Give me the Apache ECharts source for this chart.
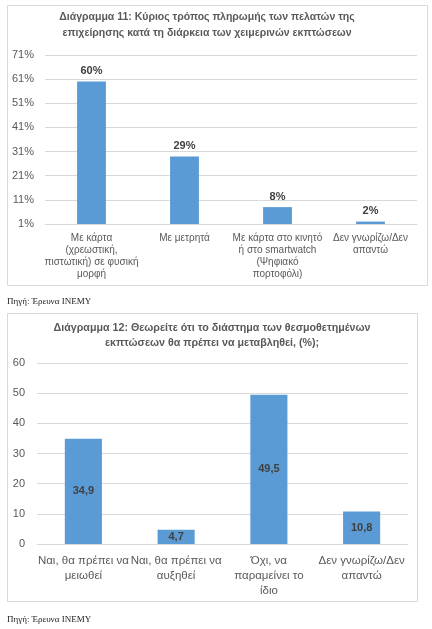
<!DOCTYPE html>
<html><head><meta charset="utf-8">
<script src="https://cdn.jsdelivr.net/npm/echarts@6/dist/echarts.min.js"></script>
<style>html,body{margin:0;padding:0;background:#fff}#c{width:432px;height:629px}</style>
</head><body><div id="c"></div>
<script>
const title1 = 'Διάγραμμα 11: Κύριος τρόπος πληρωμής των πελατών της\nεπιχείρησης κατά τη διάρκεια των χειμερινών εκπτώσεων';
const categories1 = ['Με κάρτα\n(χρεωστική,\nπιστωτική) σε φυσική\nμορφή', 'Με μετρητά', 'Με κάρτα στο κινητό\nή στο smartwatch\n(Ψηφιακό\nπορτοφόλι)', 'Δεν γνωρίζω/Δεν\nαπαντώ'];
const values1 = [60, 29, 8, 2];
const yTicks1 = [1, 11, 21, 31, 41, 51, 61, 71];

const title2 = 'Διάγραμμα 12: Θεωρείτε ότι το διάστημα των θεσμοθετημένων\nεκπτώσεων θα πρέπει να μεταβληθεί, (%);';
const categories2 = ['Ναι, θα πρέπει να\nμειωθεί', 'Ναι, θα πρέπει να\nαυξηθεί', 'Όχι, να\nπαραμείνει το\nίδιο', 'Δεν γνωρίζω/Δεν\nαπαντώ'];
const values2 = [34.9, 4.7, 49.5, 10.8];
const yTicks2 = [0, 10, 20, 30, 40, 50, 60];

const sourceText = 'Πηγή: Έρευνα ΙΝΕΜΥ';

const FONT = '"Liberation Sans", Arial, sans-serif';
const GRAY = '#595959';
const BAR = '#5B9BD5';
const GRID = '#D9D9D9';

const chart = echarts.init(document.getElementById('c'), null, {renderer: 'canvas'});
chart.setOption({
  animation: false,
  textStyle: {fontFamily: FONT},
  title: [
    {text: title1, left: 207, top: 9, textAlign: 'center', padding: 0,
     textStyle: {fontFamily: FONT, fontSize: 10.5, fontWeight: 'bold', color: GRAY, lineHeight: 16}},
    {text: title2, left: 212, top: 321, textAlign: 'center', padding: 0,
     textStyle: {fontFamily: FONT, fontSize: 10.7, fontWeight: 'bold', color: GRAY, lineHeight: 15}}
  ],
  graphic: [
    {type: 'rect', z: -10, shape: {x: 7.5, y: 5.5, width: 420, height: 280}, style: {fill: '#fff', stroke: GRID, lineWidth: 1}},
    {type: 'rect', z: -10, shape: {x: 7.5, y: 313.5, width: 410, height: 288}, style: {fill: '#fff', stroke: GRID, lineWidth: 1}},
    {type: 'text', left: 7, top: 297, style: {text: sourceText, font: '9px "Liberation Serif", serif', fill: '#222'}},
    {type: 'text', left: 7, top: 615, style: {text: sourceText, font: '9px "Liberation Serif", serif', fill: '#222'}}
  ],
  grid: [
    {left: 45, right: 15, top: 55, bottom: 405},
    {left: 37, right: 24, top: 363, bottom: 85}
  ],
  xAxis: [
    {type: 'category', gridIndex: 0, data: categories1,
     axisTick: {show: false}, axisLine: {lineStyle: {color: GRID}},
     axisLabel: {color: GRAY, fontSize: 10, lineHeight: 12, margin: 8, interval: 0}},
    {type: 'category', gridIndex: 1, data: categories2,
     axisTick: {show: false}, axisLine: {lineStyle: {color: GRID}},
     axisLabel: {color: GRAY, fontSize: 11.5, lineHeight: 15, margin: 9, interval: 0}}
  ],
  yAxis: [
    {type: 'value', gridIndex: 0, min: yTicks1[0], max: yTicks1[yTicks1.length - 1], interval: 10,
     axisLine: {show: false}, axisTick: {show: false},
     splitLine: {lineStyle: {color: GRID}},
     axisLabel: {color: GRAY, fontSize: 11, margin: 11, formatter: v => v + '%'}},
    {type: 'value', gridIndex: 1, min: yTicks2[0], max: yTicks2[yTicks2.length - 1], interval: 10,
     axisLine: {show: false}, axisTick: {show: false},
     splitLine: {lineStyle: {color: GRID}},
     axisLabel: {color: GRAY, fontSize: 11, margin: 12}}
  ],
  series: [
    {type: 'bar', xAxisIndex: 0, yAxisIndex: 0, data: values1, barWidth: '31%',
     itemStyle: {color: BAR},
     label: {show: true, position: 'top', distance: 5, color: '#404040', fontWeight: 'bold', fontSize: 11, formatter: p => p.value + '%'}},
    {type: 'bar', xAxisIndex: 1, yAxisIndex: 1, data: values2, barWidth: '40%',
     itemStyle: {color: BAR},
     label: {show: true, position: 'inside', color: '#404040', fontWeight: 'bold', fontSize: 11, formatter: p => p.value.toFixed(1).replace('.', ',')}}
  ]
});
</script>
</body></html>
